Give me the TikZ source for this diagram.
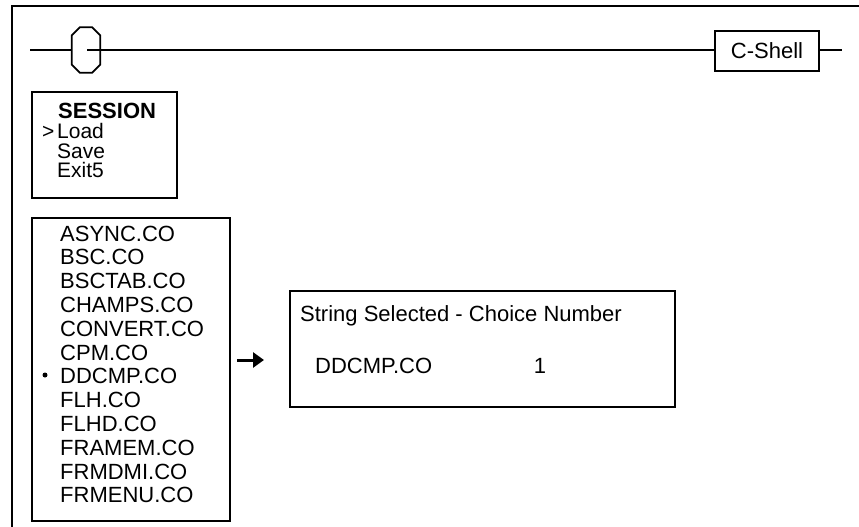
\documentclass[tikz,border=0pt]{standalone}
\usepackage{fontspec}
\setmainfont{Liberation Sans}
\usetikzlibrary{arrows.meta,positioning}

\tikzset{
  panel/.style={draw, line width=1.6pt, inner sep=0pt},
  txt/.style={anchor=west, inner sep=0pt, text height=16pt, text depth=0pt,
    font=\fontsize{22}{24}\selectfont},
  menutxt/.style={txt, text height=14pt, font=\fontsize{21}{22}\selectfont},
  rung/.style={line width=1.8pt},
  pointer/.style={line width=3pt, -{Triangle[length=11pt,width=15pt]}},
}

\begin{document}
\begin{tikzpicture}[x=1pt,y=-1pt]
  \useasboundingbox (0,0) rectangle (859,527);
  % outer frame
  \draw[line width=1.3pt] (12,527) -- (12,6) -- (859,6);

  % top rung
  \node[inner sep=0pt, minimum width=28, minimum height=45] (oct) at (86,50) {};
  \draw[rung] ([yshift=-8pt]oct.north west) -- ([xshift=8pt]oct.north west)
    -- ([xshift=-8pt]oct.north east) -- ([yshift=-8pt]oct.north east)
    -- ([yshift=8pt]oct.south east) -- ([xshift=-8pt]oct.south east)
    -- ([xshift=8pt]oct.south west) -- ([yshift=8pt]oct.south west) -- cycle;
  \node[panel, minimum width=104, minimum height=40] (shell) at (767,51) {};
  \node[txt, anchor=center] (shelltxt) at (shell) {C-Shell};
  \coordinate (rl) at (30,50);
  \coordinate (rr) at (842,50);
  \draw[rung] (rl) -- (oct.west);
  \draw[rung] ([xshift=1]oct.center) -- (oct.center -| shell.west);
  \draw[rung] (shell.east |- rr) -- (rr);

  % session menu
  \node[panel, anchor=north west, minimum width=145, minimum height=106] (session) at (31,91) {};
  \node[txt, font=\fontsize{22}{24}\selectfont\bfseries] (title) at (58,110) {SESSION};
  \foreach \opt [count=\i] in {Load, Save, Exit5} {
    \node[menutxt] (opt\i) at (57,{112+19.5*\i}) {\opt};
  }
  \node[menutxt] (cursor) at (42,131) {>};

  % file list
  \node[panel, anchor=north west, minimum width=198, minimum height=303] (files) at (31,217) {};
  \foreach \fname [count=\i] in {ASYNC.CO, BSC.CO, BSCTAB.CO, CHAMPS.CO, CONVERT.CO, CPM.CO,
      DDCMP.CO, FLH.CO, FLHD.CO, FRAMEM.CO, FRMDMI.CO, FRMENU.CO} {
    \node[txt] (f\i) at (60,{233+23.8*(\i-1)}) {\fname};
  }
  \node[circle, fill, inner sep=0pt, minimum size=5] (mark) at (45,375) {};

  % result
  \coordinate (a0) at (237,360);
  \coordinate (a1) at (264,360);
  \draw[pointer] (a0) -- (a1);
  \node[panel, anchor=north west, minimum width=385, minimum height=116] (result) at (289,290) {};
  \node[txt] (head) at (300,313) {String Selected - Choice Number};
  \node[txt] (pick) at (315,365) {DDCMP.CO};
  \node[txt, anchor=center] (num) at (540,365) {1};
\end{tikzpicture}
\end{document}
